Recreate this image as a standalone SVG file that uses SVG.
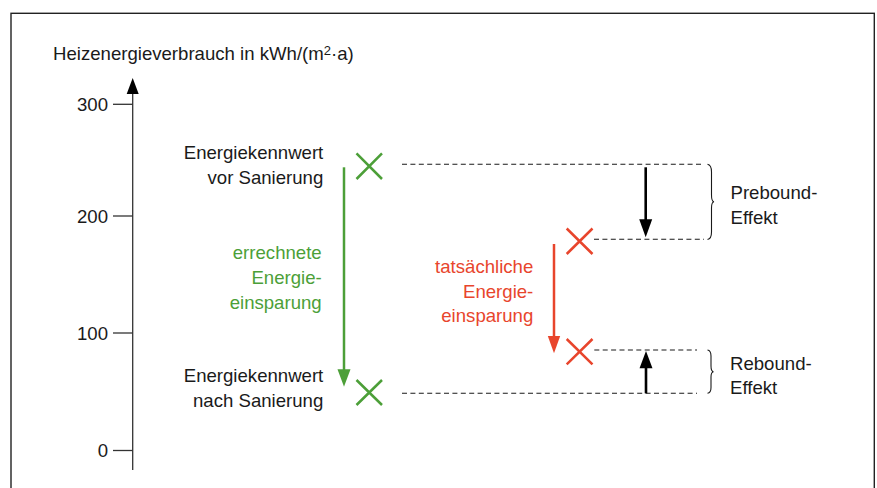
<svg xmlns="http://www.w3.org/2000/svg" width="877" height="488" viewBox="0 0 877 488">
<style>
text{font-family:"Liberation Sans",Arial,sans-serif;font-size:18.6px;fill:#1a1a1a}
.g{fill:#4c9f38}
.r{fill:#e8452c}
.e{text-anchor:end}
.ax{stroke:#333;stroke-width:1.3;fill:none}
.dash{stroke:#1a1a1a;stroke-width:1.1;stroke-dasharray:5 3.4;fill:none}
.xg{stroke:#4c9f38;stroke-width:2.5;fill:none}
.xr{stroke:#e8452c;stroke-width:2.5;fill:none}
.br{stroke:#1a1a1a;stroke-width:1.1;fill:none}
</style>
<rect x="11" y="13.3" width="863.3" height="500" fill="#fff" stroke="#222" stroke-width="1.4"/>
<g id="axis">
<line class="ax" x1="132.7" y1="470" x2="132.7" y2="92"/>
<path d="M126.7,94 L138.7,94 L132.7,78 Z" fill="#000"/>
<line class="ax" x1="113" y1="104.3" x2="132.7" y2="104.3"/>
<line class="ax" x1="113" y1="216" x2="132.7" y2="216"/>
<line class="ax" x1="113" y1="333" x2="132.7" y2="333"/>
<line class="ax" x1="113" y1="450.5" x2="132.7" y2="450.5"/>
<text class="e" x="108" y="111">300</text>
<text class="e" x="108" y="222.8">200</text>
<text class="e" x="108" y="339.8">100</text>
<text class="e" x="108" y="457.3">0</text>
<text x="53" y="60">Heizenergieverbrauch in kWh/(m<tspan font-size="13" dy="-5">2</tspan><tspan dy="5">·a)</tspan></text>
</g>
<g id="vor">
<path class="xg" d="M356.5,153.3 L382,179 M382,153.3 L356.5,179"/>
<text class="e" x="323.3" y="159.3">Energiekennwert</text>
<text class="e" x="323.3" y="184.3">vor Sanierung</text>
</g>
<g id="nach">
<path class="xg" d="M356.5,380 L382,405 M382,380 L356.5,405"/>
<text class="e" x="323.3" y="382.3">Energiekennwert</text>
<text class="e" x="323.3" y="407.3">nach Sanierung</text>
</g>
<g id="tats-oben">
<path class="xr" d="M566.7,228.5 L592.5,254 M592.5,228.5 L566.7,254"/>
</g>
<g id="tats-unten">
<path class="xr" d="M566.7,339 L592.5,364.3 M592.5,339 L566.7,364.3"/>
</g>
<g id="errechnet">
<text class="g e" x="321.7" y="259.3">errechnete</text>
<text class="g e" x="321.7" y="284">Energie-</text>
<text class="g e" x="321.7" y="308.5">einsparung</text>
</g>
<g id="tatsaechlich">
<text class="r e" x="533.3" y="273.3">tatsächliche</text>
<text class="r e" x="533.3" y="297.8">Energie-</text>
<text class="r e" x="533.3" y="322">einsparung</text>
</g>
<g id="prebound">
<path class="br" d="M707.5,164.3 Q711.5,165 711.5,172 L711.5,195 Q711.5,201.5 714,201.7 Q711.5,202 711.5,208 L711.5,232 Q711.5,239 707.5,239.5"/>
<text x="730.5" y="199.3">Prebound-</text>
<text x="730.5" y="223.5">Effekt</text>
</g>
<g id="rebound">
<path class="br" d="M707.5,350 Q711,350.5 711,356 L711,366 Q711,371.5 713.5,371.7 Q711,372 711,377 L711,387.5 Q711,393 707.5,393.3"/>
<text x="730" y="370">Rebound-</text>
<text x="730" y="394">Effekt</text>
</g>
<g id="connectors">
<line class="dash" x1="402" y1="164.3" x2="704" y2="164.3"/>
<line class="dash" x1="594" y1="239.3" x2="704" y2="239.3"/>
<line class="dash" x1="594.3" y1="350" x2="697" y2="350"/>
<line class="dash" x1="402" y1="393.3" x2="697" y2="393.3"/>
<line x1="344" y1="167.3" x2="344" y2="372" stroke="#4c9f38" stroke-width="2.5"/>
<path d="M337.5,369.3 L350.5,369.3 L344,386.7 Z" fill="#4c9f38"/>
<line x1="554" y1="244" x2="554" y2="339" stroke="#e8452c" stroke-width="2.5"/>
<path d="M547.8,336 L560.2,336 L554,353.3 Z" fill="#e8452c"/>
<line x1="645.7" y1="167.3" x2="645.7" y2="222" stroke="#000" stroke-width="2.6"/>
<path d="M639.2,219.3 L652.2,219.3 L645.7,237.3 Z" fill="#000"/>
<line x1="646" y1="393.3" x2="646" y2="366" stroke="#000" stroke-width="2.6"/>
<path d="M639.5,368.3 L652.5,368.3 L646,351 Z" fill="#000"/>
</g>
</svg>
